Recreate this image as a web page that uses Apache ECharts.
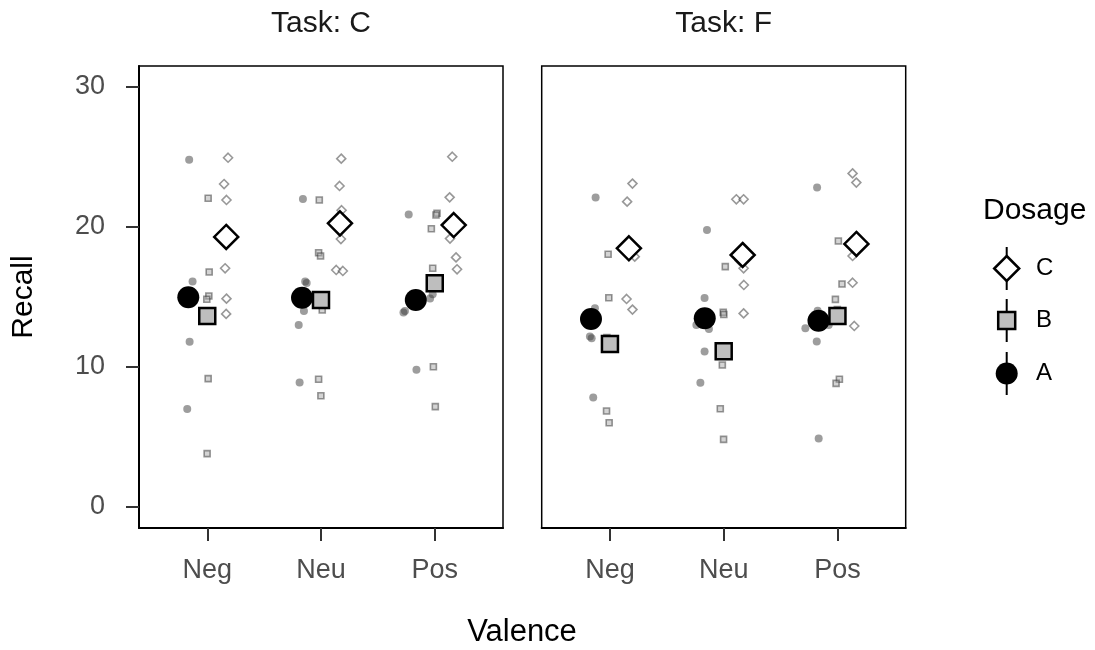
<!DOCTYPE html>
<html><head><meta charset="utf-8">
<script src="https://cdn.jsdelivr.net/npm/echarts@6/dist/echarts.min.js"></script>
<style>html,body{margin:0;padding:0;background:#fff}#c{width:1095px;height:650px}</style>
</head><body><div id="c"></div>
<script>
// ---------- data ----------
const valence = ['Neg', 'Neu', 'Pos'];
const tasks = ['C', 'F'];
const dosages = ['A', 'B', 'C'];
const yTicks = [0, 10, 20, 30];

// raw observations (6 per valence: Neg, Neu, Pos) and their jittered x position in valence units
const rawC_A_val = [24.8, 16.1, 11.8, 7.0, 15.1, 14.9,  22.0, 16.0, 16.1, 14.0, 13.0, 8.9,  20.9, 15.2, 14.9, 13.9, 14.0, 9.8];
const rawC_A_pos = [0.841, 0.871, 0.845, 0.824, 0.812, 0.846,  1.841, 1.874, 1.861, 1.850, 1.804, 1.812,  2.771, 2.982, 2.959, 2.725, 2.738, 2.839];
const rawC_B_val = [22.05, 16.79, 15.07, 14.84, 9.17, 3.81,  21.93, 18.16, 17.93, 14.07, 9.12, 7.95,  20.98, 20.86, 19.88, 17.05, 10.02, 7.17];
const rawC_B_pos = [1.008, 1.017, 1.014, 0.996, 1.008, 0.999,  1.985, 1.979, 1.996, 2.011, 1.979, 1.999,  3.020, 3.011, 2.970, 2.982, 2.988, 3.005];
const rawC_C_val = [24.95, 23.07, 21.93, 17.05, 14.88, 13.79,  24.88, 22.93, 21.2, 19.14, 16.93, 16.86,  25.02, 22.12, 20.1, 19.17, 17.83, 16.98];
const rawC_C_pos = [1.183, 1.148, 1.169, 1.157, 1.169, 1.166,  2.178, 2.163, 2.181, 2.175, 2.134, 2.192,  3.154, 3.131, 3.172, 3.134, 3.187, 3.196];

const rawF_A_val = [22.1, 14.19, 12.17, 12.05, 7.83, 13.2,  19.79, 14.93, 13.0, 12.71, 11.1, 8.88,  22.83, 14.02, 13.0, 12.76, 11.83, 4.9];
const rawF_A_pos = [0.874, 0.868, 0.824, 0.839, 0.853, 0.806,  1.853, 1.832, 1.760, 1.870, 1.832, 1.795,  2.821, 2.826, 2.923, 2.718, 2.818, 2.835];
const rawF_B_val = [18.05, 14.95, 12.1, 11.9, 6.86, 6.02,  17.17, 13.9, 13.75, 10.14, 7.02, 4.83,  19.0, 15.93, 14.83, 14.1, 9.12, 8.83];
const rawF_B_pos = [0.984, 0.990, 0.973, 1.008, 0.970, 0.993,  2.014, 1.996, 2.001, 1.988, 1.970, 1.999,  3.008, 3.040, 2.982, 2.999, 3.017, 2.988];
const rawF_C_val = [23.1, 21.81, 19.0, 17.88, 14.86, 14.1,  21.98, 21.98, 17.6, 17.05, 15.86, 13.83,  23.83, 23.17, 18.9, 17.93, 16.02, 12.93];
const rawF_C_pos = [1.198, 1.151, 1.166, 1.218, 1.146, 1.198,  2.111, 2.175, 2.139, 2.175, 2.177, 2.175,  3.133, 3.166, 3.157, 3.133, 3.133, 3.148];

// group means (Neg, Neu, Pos)
const meanC_A = [14.98, 14.95, 14.79];
const meanC_B = [13.64, 14.79, 15.98];
const meanC_C = [19.29, 20.26, 20.14];
const meanF_A = [13.43, 13.48, 13.31];
const meanF_B = [11.64, 11.12, 13.64];
const meanF_C = [18.48, 18.0, 18.79];

// ---------- chart ----------
const FONT = "'Liberation Sans', Arial, Helvetica, sans-serif";
const dodge = {A: -1/6, B: 0, C: 1/6};
const rawStyle = {
  A: {symbol: 'circle', size: 8, style: {color: 'rgba(60,60,60,0.5)', opacity: 1}},
  B: {symbol: 'rect', size: 6, style: {color: 'rgba(170,170,170,0.5)', borderColor: 'rgba(50,50,50,0.5)', borderWidth: 1.6, opacity: 1}},
  C: {symbol: 'diamond', size: 9, style: {color: 'rgba(255,255,255,0.5)', borderColor: 'rgba(50,50,50,0.5)', borderWidth: 1.6, opacity: 1}}
};
const meanStyle = {
  A: {symbol: 'circle', size: 22, style: {color: '#000', opacity: 1}},
  B: {symbol: 'rect', size: 16, style: {color: '#BEBEBE', borderColor: '#000', borderWidth: 2.5, opacity: 1}},
  C: {symbol: 'diamond', size: 24, style: {color: '#fff', borderColor: '#000', borderWidth: 2.5, opacity: 1}}
};
const raw = {
  C: {A: [rawC_A_val, rawC_A_pos], B: [rawC_B_val, rawC_B_pos], C: [rawC_C_val, rawC_C_pos]},
  F: {A: [rawF_A_val, rawF_A_pos], B: [rawF_B_val, rawF_B_pos], C: [rawF_C_val, rawF_C_pos]}
};
const means = {
  C: {A: meanC_A, B: meanC_B, C: meanC_C},
  F: {A: meanF_A, B: meanF_B, C: meanF_C}
};

const series = [];
tasks.forEach((t, ti) => {
  dosages.forEach(d => {
    const [vals, pos] = raw[t][d];
    series.push({
      type: 'scatter', name: 'raw ' + d, xAxisIndex: ti, yAxisIndex: ti, silent: true,
      symbol: rawStyle[d].symbol, symbolSize: rawStyle[d].size, itemStyle: rawStyle[d].style,
      data: vals.map((v, i) => [pos[i], v])
    });
  });
  dosages.forEach(d => {
    series.push({
      type: 'scatter', name: d, xAxisIndex: ti, yAxisIndex: ti, silent: true,
      symbol: meanStyle[d].symbol, symbolSize: meanStyle[d].size, itemStyle: meanStyle[d].style,
      data: means[t][d].map((v, i) => [i + 1 + dodge[d], v])
    });
  });
});

const gridBase = {top: 66, width: 364, height: 462, show: true, borderColor: '#000', borderWidth: 1.5, backgroundColor: 'transparent'};
const xAxisBase = (gi) => ({
  type: 'value', gridIndex: gi, min: 0.4, max: 3.6,
  axisLine: {show: true, onZero: false, lineStyle: {color: '#000', width: 2}},
  axisTick: {show: true, customValues: [1, 2, 3], length: 13, lineStyle: {color: '#333', width: 2}},
  axisLabel: {customValues: [1, 2, 3], formatter: v => valence[Math.round(v) - 1], fontSize: 27, color: '#4D4D4D', fontFamily: FONT, margin: 29},
  splitLine: {show: false}
});

const legendItems = [
  {key: 'C', cy: 268.5},
  {key: 'B', cy: 320.5},
  {key: 'A', cy: 373.5}
];
const LX = 1006.7;
const graphic = [
  {type: 'text', x: 522, y: 632, style: {text: 'Valence', fontSize: 31, fontFamily: FONT, fill: '#000', align: 'center', verticalAlign: 'middle'}},
  {type: 'text', x: 983, y: 211, style: {text: 'Dosage', fontSize: 30, fontFamily: FONT, fill: '#000', align: 'left', verticalAlign: 'middle'}}
];
legendItems.forEach(it => {
  graphic.push({type: 'line', z: 1, shape: {x1: LX, y1: it.cy - 21.5, x2: LX, y2: it.cy + 21.5}, style: {stroke: '#000', lineWidth: 2}});
  if (it.key === 'C') {
    const h = 12.5;
    graphic.push({type: 'polygon', z: 2, shape: {points: [[LX, it.cy - h], [LX + h, it.cy], [LX, it.cy + h], [LX - h, it.cy]]}, style: {fill: '#fff', stroke: '#000', lineWidth: 2.5}});
  } else if (it.key === 'B') {
    graphic.push({type: 'rect', z: 2, shape: {x: LX - 8.5, y: it.cy - 8.5, width: 17, height: 17}, style: {fill: '#BEBEBE', stroke: '#000', lineWidth: 2.5}});
  } else {
    graphic.push({type: 'circle', z: 2, shape: {cx: LX, cy: it.cy, r: 11}, style: {fill: '#000'}});
  }
  graphic.push({type: 'text', z: 2, x: 1036, y: it.cy, style: {text: it.key, fontSize: 24, fontFamily: FONT, fill: '#000', align: 'left', verticalAlign: 'middle'}});
});

const option = {
  animation: false,
  backgroundColor: '#fff',
  textStyle: {fontFamily: FONT},
  title: [
    {text: 'Task: ' + tasks[0], left: 321, top: 9, textAlign: 'center', padding: 0, textStyle: {fontSize: 30, fontWeight: 'normal', color: '#1A1A1A', fontFamily: FONT}},
    {text: 'Task: ' + tasks[1], left: 723.7, top: 9, textAlign: 'center', padding: 0, textStyle: {fontSize: 30, fontWeight: 'normal', color: '#1A1A1A', fontFamily: FONT}}
  ],
  grid: [Object.assign({left: 139}, gridBase), Object.assign({left: 541.7}, gridBase)],
  xAxis: [xAxisBase(0), xAxisBase(1)],
  yAxis: [
    {type: 'value', gridIndex: 0, min: -1.5, max: 31.5,
     name: 'Recall', nameLocation: 'middle', nameRotate: 90, nameGap: 100,
     nameTextStyle: {fontSize: 30, color: '#000', fontFamily: FONT},
     axisLine: {show: true, onZero: false, lineStyle: {color: '#000', width: 2}},
     axisTick: {show: true, customValues: yTicks, length: 13, lineStyle: {color: '#333', width: 2}},
     axisLabel: {customValues: yTicks, fontSize: 27, color: '#4D4D4D', fontFamily: FONT, margin: 34},
     splitLine: {show: false}},
    {type: 'value', gridIndex: 1, min: -1.5, max: 31.5,
     axisLine: {show: false}, axisTick: {show: false}, axisLabel: {show: false}, splitLine: {show: false}}
  ],
  graphic: graphic,
  series: series
};

const chart = echarts.init(document.getElementById('c'), null, {renderer: 'canvas', width: 1095, height: 650});
chart.setOption(option);
</script>
</body></html>
